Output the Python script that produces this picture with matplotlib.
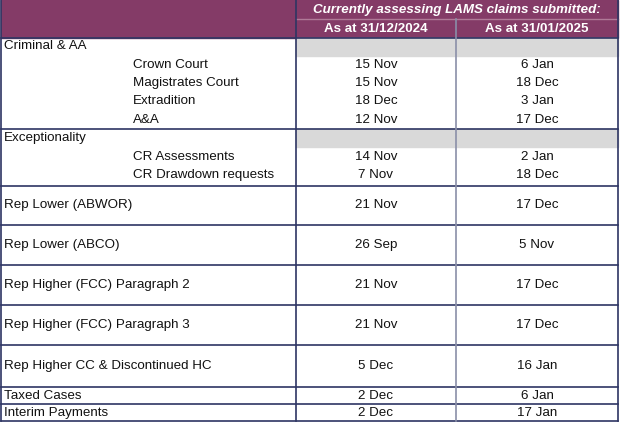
import matplotlib
matplotlib.use('Agg')
import matplotlib.pyplot as plt
from matplotlib.patches import Rectangle

title = 'Currently assessing LAMS claims submitted:'
col_heads = ['As at 31/12/2024', 'As at 31/01/2025']

# (label, indented, col1, col2, row top px, row bottom px, grey band)
labels = ['Criminal & AA', 'Crown Court', 'Magistrates Court', 'Extradition', 'A&A',
          'Exceptionality', 'CR Assessments', 'CR Drawdown requests',
          'Rep Lower (ABWOR)', 'Rep Lower (ABCO)', 'Rep Higher (FCC) Paragraph 2',
          'Rep Higher (FCC) Paragraph 3', 'Rep Higher CC & Discontinued HC',
          'Taxed Cases', 'Interim Payments']
indented = [False, True, True, True, True, False, True, True,
            False, False, False, False, False, False, False]
dec_2024 = ['', '15 Nov', '15 Nov', '18 Dec', '12 Nov', '', '14 Nov', '7 Nov',
            '21 Nov', '26 Sep', '21 Nov', '21 Nov', '5 Dec', '2 Dec', '2 Dec']
jan_2025 = ['', '6 Jan', '18 Dec', '3 Jan', '17 Dec', '', '2 Jan', '18 Dec',
            '17 Dec', '5 Nov', '17 Dec', '17 Dec', '16 Jan', '6 Jan', '17 Jan']
text_y = [46, 65, 83, 101, 120, 138, 157, 175, 205, 245, 285, 325, 366, 396, 413]

group_lines = [38, 129, 186, 225, 265, 305, 345, 387, 404, 421]
grey_bands = [(38, 56), (129, 147)]

W, H = 620, 423
x0, x1, x2, x3 = 1, 296, 456, 618
purple = '#843B67'
navy = '#2E3563'

fig = plt.figure(figsize=(W / 100, H / 100), dpi=100)
ax = fig.add_axes([0, 0, 1, 1])
ax.set_xlim(0, W)
ax.set_ylim(H, 0)
ax.axis('off')

ax.add_patch(Rectangle((x0, 0), x3 - x0, 38, color=purple, zorder=0))
for a, b in grey_bands:
    ax.add_patch(Rectangle((x1, a), x3 - x1, b - a, color='#D9D9D9', zorder=0))

font = dict(family='Liberation Sans', fontsize=9.6)
ax.text((x1 + x3) / 2, 9.5, title, color='white', ha='center', va='center',
        fontweight='bold', style='italic', **font)
for xc, h in zip([(x1 + x2) / 2, (x2 + x3) / 2], col_heads):
    ax.text(xc, 29, h, color='white', ha='center', va='center', fontweight='bold', **font)

for lab, ind, a, b, y in zip(labels, indented, dec_2024, jan_2025, text_y):
    ax.text(133 if ind else 4, y, lab, ha='left', va='center', color='#111111', **font)
    ax.text((x1 + x2) / 2, y, a, ha='center', va='center', color='#111111', **font)
    ax.text((x2 + x3) / 2, y, b, ha='center', va='center', color='#111111', **font)

# grid lines
ax.plot([x1, x3], [19, 19], color='#b07a98', lw=1)
for y in group_lines:
    ax.plot([x0, x3], [y, y], color=navy, lw=1.2)
for x in [x0, x1, x3]:
    ax.plot([x, x], [0, 421], color=navy, lw=1.2)
ax.plot([x2, x2], [19, 421], color='#8a8fa8', lw=1.2)

fig.savefig('out.png', dpi=100, facecolor='white')
